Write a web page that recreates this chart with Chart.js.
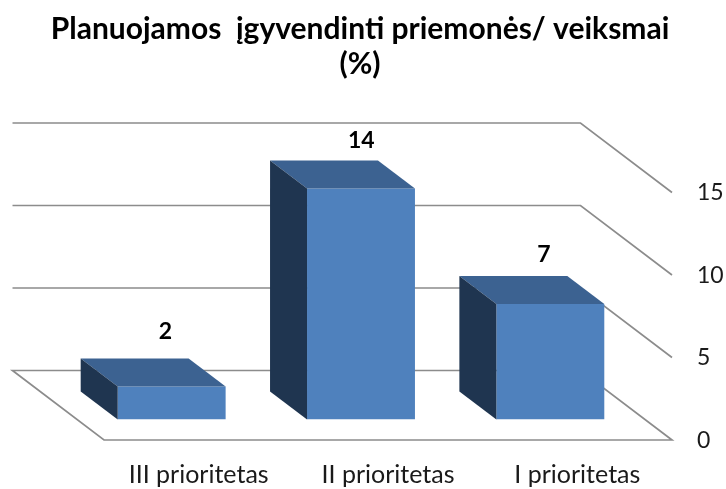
<!DOCTYPE html>
<html>
<head>
<meta charset="utf-8">
<style>
  html, body { margin: 0; padding: 0; background: #fff; }
  canvas { display: block; }
</style>
<script src="https://cdn.jsdelivr.net/npm/chart.js@4"></script>
</head>
<body>
<canvas id="chart" width="726" height="489"></canvas>
<script>
"use strict";

const titleLines = ['Planuojamos  įgyvendinti priemonės/ veiksmai', '(%)'];
const categories = ['III prioritetas', 'II prioritetas', 'I prioritetas'];
const values = [2, 14, 7];
const valueTicks = [0, 5, 10, 15];

const FONT = 'Lato, "Open Sans", sans-serif';
const GRID = '#8c8c8c';
const BAR_FRONT = '#4f81bd';
const BAR_TOP = '#3c6291';
const BAR_SIDE = '#1f3550';

// the fake 3D box, as offsets from the plane the bars stand on
const BACK = { x: -64.5, y: -49 };
const FRONT = { x: 27, y: 20.5 };
const BAR_DEPTH = { x: -37, y: -28 };
// how far above the front top edge each value label sits
const LABEL_LIFT = [55, 48, 49];

function polygon(ctx, points, fill) {
    ctx.beginPath();
    points.forEach((p, i) => (i ? ctx.lineTo(p[0], p[1]) : ctx.moveTo(p[0], p[1])));
    ctx.closePath();
    ctx.fillStyle = fill;
    ctx.fill();
}

const box3d = {
    id: 'box3d',
    afterLayout(chart) {
        // title is centred over the picture, not over the padded area
        chart.titleBlock.left = 0;
        chart.titleBlock.right = 720;
    },
    beforeDatasetsDraw(chart) {
        const { ctx, chartArea, scales } = chart;
        ctx.save();
        ctx.strokeStyle = GRID;
        ctx.lineWidth = 1.7;
        valueTicks.forEach(v => {
            const y = scales.y.getPixelForValue(v);
            ctx.beginPath();
            ctx.moveTo(chartArea.left + BACK.x, y + BACK.y);
            ctx.lineTo(chartArea.right + BACK.x, y + BACK.y);
            ctx.lineTo(chartArea.right + FRONT.x, y + FRONT.y);
            if (v === 0) {
                ctx.lineTo(chartArea.left + FRONT.x, y + FRONT.y);
                ctx.closePath();
            }
            ctx.stroke();
        });
        ctx.restore();
    },
    afterDatasetsDraw(chart) {
        const { ctx } = chart;
        ctx.save();
        chart.getDatasetMeta(0).data.forEach((bar, i) => {
            const l = bar.x - bar.width / 2;
            const r = bar.x + bar.width / 2;
            const dx = BAR_DEPTH.x;
            const dy = BAR_DEPTH.y;
            polygon(ctx, [[l, bar.y], [r, bar.y], [r + dx, bar.y + dy], [l + dx, bar.y + dy]], BAR_TOP);
            polygon(ctx, [[l, bar.y], [l + dx, bar.y + dy], [l + dx, bar.base + dy], [l, bar.base]], BAR_SIDE);

            ctx.fillStyle = '#000';
            ctx.font = 'bold 23px ' + FONT;
            ctx.textAlign = 'left';
            ctx.textBaseline = 'middle';
            ctx.fillText(values[i], bar.x - 13, bar.y - LABEL_LIFT[i]);
        });
        ctx.restore();
    }
};

new Chart(document.getElementById('chart'), {
    type: 'bar',
    data: {
        labels: categories,
        datasets: [{
            data: values,
            backgroundColor: BAR_FRONT,
            barPercentage: 0.57,
            categoryPercentage: 1
        }]
    },
    options: {
        responsive: false,
        animation: false,
        layout: { padding: { left: 77 } },
        plugins: {
            legend: { display: false },
            tooltip: { enabled: false },
            title: {
                display: true,
                text: titleLines,
                color: '#000',
                font: { family: FONT, size: 30, weight: 'bold', lineHeight: 35 / 30 },
                padding: { top: 12, bottom: 90 }
            }
        },
        scales: {
            x: {
                grid: { display: false, drawTicks: false },
                border: { display: false },
                afterFit(scale) { scale.height = 69.5; },
                ticks: {
                    color: '#1a1a1a',
                    font: { family: FONT, size: 25 },
                    labelOffset: 27,
                    padding: 40,
                    maxRotation: 0,
                    autoSkip: false
                }
            },
            y: {
                position: 'right',
                min: 0,
                max: 15,
                afterFit(scale) { scale.width = 81; },
                afterBuildTicks(scale) { scale.ticks = valueTicks.map(value => ({ value })); },
                grid: { display: false, drawTicks: false },
                border: { display: false },
                ticks: {
                    color: '#1a1a1a',
                    font: { family: FONT, size: 23 },
                    labelOffset: 21,
                    padding: 52
                }
            }
        }
    },
    plugins: [box3d]
});
</script>
</body>
</html>
